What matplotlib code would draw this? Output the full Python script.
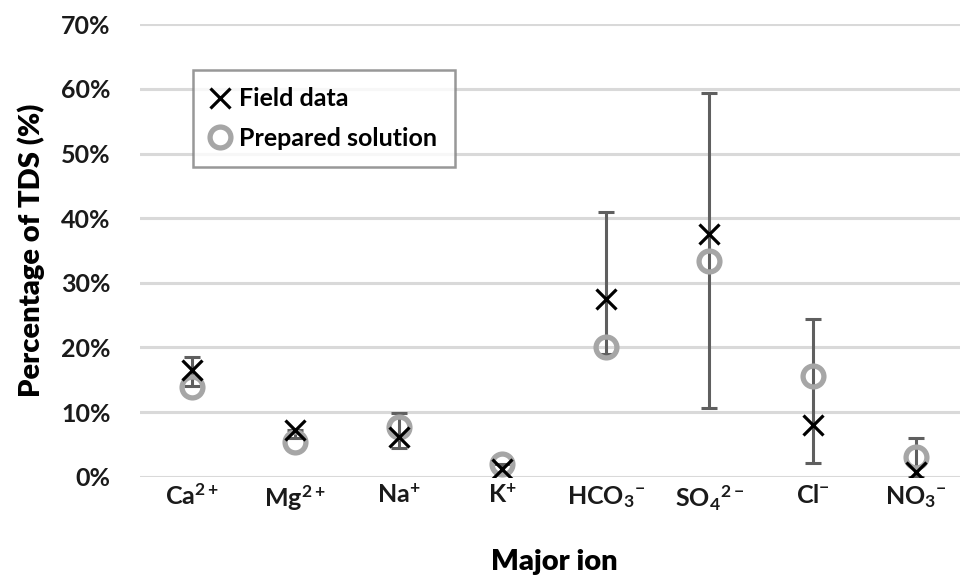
import matplotlib
matplotlib.use("Agg")
import matplotlib.pyplot as plt
from matplotlib.ticker import PercentFormatter

plt.rcParams['font.family'] = ['Lato', 'DejaVu Sans']
plt.rcParams['font.weight'] = 'bold'
plt.rcParams['mathtext.fontset'] = 'custom'
plt.rcParams['mathtext.rm'] = 'Lato:bold'
plt.rcParams['mathtext.it'] = 'Lato:bold'
plt.rcParams['mathtext.bf'] = 'Lato:bold'

# data (fraction of TDS)
ions = ['Ca$^{2+}$', 'Mg$^{2+}$', 'Na$^{+}$', 'K$^{+}$',
        'HCO$_3$$^{-}$', 'SO$_4$$^{2-}$', 'Cl$^{-}$', 'NO$_3$$^{-}$']
field = [0.165, 0.072, 0.062, 0.012, 0.275, 0.376, 0.080, 0.008]
field_low = [0.140, 0.060, 0.045, 0.005, 0.190, 0.106, 0.021, 0.000]
field_high = [0.185, 0.072, 0.099, 0.020, 0.409, 0.594, 0.244, 0.060]
prepared = [0.139, 0.054, 0.077, 0.019, 0.200, 0.334, 0.156, 0.030]

x = list(range(len(ions)))
yerr = [[f - lo for f, lo in zip(field, field_low)],
        [hi - f for f, hi in zip(field, field_high)]]

fig = plt.figure(figsize=(9.6, 5.81), dpi=100)
ax = fig.add_axes([140 / 960, 104.3 / 581, 828 / 960, 452.4 / 581])

ax.errorbar(x, field, yerr=yerr, fmt='none', ecolor='#5f5f5f',
            elinewidth=2.2, capsize=6, capthick=2.2, zorder=2)
ax.plot(x, prepared, 'o', ms=15, mfc='none', mec='#a6a6a6', mew=3.8,
        label='Prepared solution', zorder=3)
ax.plot(x, field, 'x', ms=15, color='black', mew=2.3,
        label='Field data', zorder=4)

ax.set_xlim(-0.5, len(ions) - 0.5)
ax.set_ylim(0, 0.7)
ax.set_yticks([i / 10 for i in range(8)])
ax.yaxis.set_major_formatter(PercentFormatter(1.0, decimals=0))
ax.set_xticks(x)
ax.set_xticklabels(ions)
ax.tick_params(axis='both', length=0, labelsize=18, colors='#1a1a1a')
ax.tick_params(axis='y', pad=21)
ax.tick_params(axis='x', pad=5)
ax.grid(axis='y', color='#d9d9d9', lw=2.2)
ax.set_axisbelow(True)
for s in ax.spines.values():
    s.set_visible(False)

ax.set_ylabel('Percentage of TDS (%)', fontsize=21, fontweight='heavy', labelpad=0)
ax.set_xlabel('Major ion', fontsize=21, fontweight='heavy', labelpad=26)
ax.yaxis.set_label_coords(-0.115, 0.5)

h, l = ax.get_legend_handles_labels()
leg = ax.legend(h[::-1], l[::-1], loc='upper left', bbox_to_anchor=(0.064, 0.899),
                borderaxespad=0, fontsize=18, frameon=True, fancybox=False,
                handlelength=0.8, handletextpad=0.35, borderpad=0.7,
                labelspacing=0.65)
leg.get_frame().set_edgecolor('#7f7f7f')
leg.get_frame().set_linewidth(1.8)

plt.savefig('out.png', dpi=100)
plt.close()
